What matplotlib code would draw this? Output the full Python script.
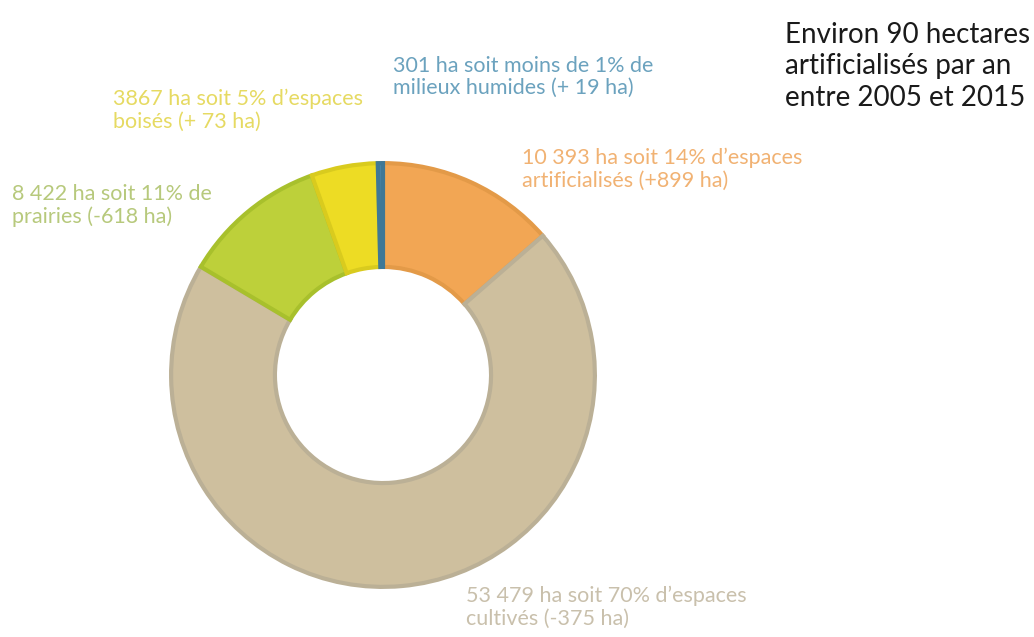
import matplotlib
matplotlib.use("Agg")
import matplotlib.pyplot as plt

categories = ["artificialisés", "cultivés", "prairies", "boisés", "milieux humides"]
values = [10393, 53479, 8422, 3867, 301]
fill_colors = ["#F2A654", "#CEBF9E", "#BDD03A", "#EDDC24", "#4A84A6"]
edge_colors = ["#E39A48", "#BBB096", "#A8C02C", "#D9CB1E", "#3F7896"]
label_texts = [
    "10 393 ha soit 14% d\u2019espaces\nartificialisés (+899 ha)",
    "53 479 ha soit 70% d\u2019espaces\ncultivés (-375 ha)",
    "8 422 ha soit 11% de\nprairies (-618 ha)",
    "3867 ha soit 5% d\u2019espaces\nboisés (+ 73 ha)",
    "301 ha soit moins de 1% de\nmilieux humides (+ 19 ha)",
]
label_colors = ["#F1B273", "#C9C0AC", "#B7C97C", "#E6DA62", "#6BA2BE"]
label_pos_px = [(522, 162), (466, 600), (12, 198), (113, 103), (393, 70)]
title_text = "Environ 90 hectares\nartificialisés par an\nentre 2005 et 2015"

W, H = 1034, 637
fig = plt.figure(figsize=(W / 100, H / 100), dpi=100)
fig.patch.set_facecolor("white")

cx, cy, R = 383, 375, 214
ax = fig.add_axes([(cx - R) / W, (H - cy - R) / H, 2 * R / W, 2 * R / H])
wedges, _ = ax.pie(values, startangle=90, counterclock=False, radius=1,
                   colors=fill_colors,
                   wedgeprops=dict(width=0.49, linewidth=3))
for w, ec in zip(wedges, edge_colors):
    w.set_edgecolor(ec)
ax.set_xlim(-1.01, 1.01)
ax.set_ylim(-1.01, 1.01)
ax.set_aspect("equal")
ax.axis("off")

font = "Lato"
for txt, col, (x, y) in zip(label_texts, label_colors, label_pos_px):
    fig.text(x / W, 1 - (y - 14) / H, txt, color=col, fontsize=15.5,
             family=font, ha="left", va="top", linespacing=1.13)

fig.text(785 / W, 1 - 22 / H, title_text, color="#1a1a1a", fontsize=20,
         family=font, ha="left", va="top", linespacing=1.26)

fig.savefig("out.png", dpi=100, facecolor="white")
